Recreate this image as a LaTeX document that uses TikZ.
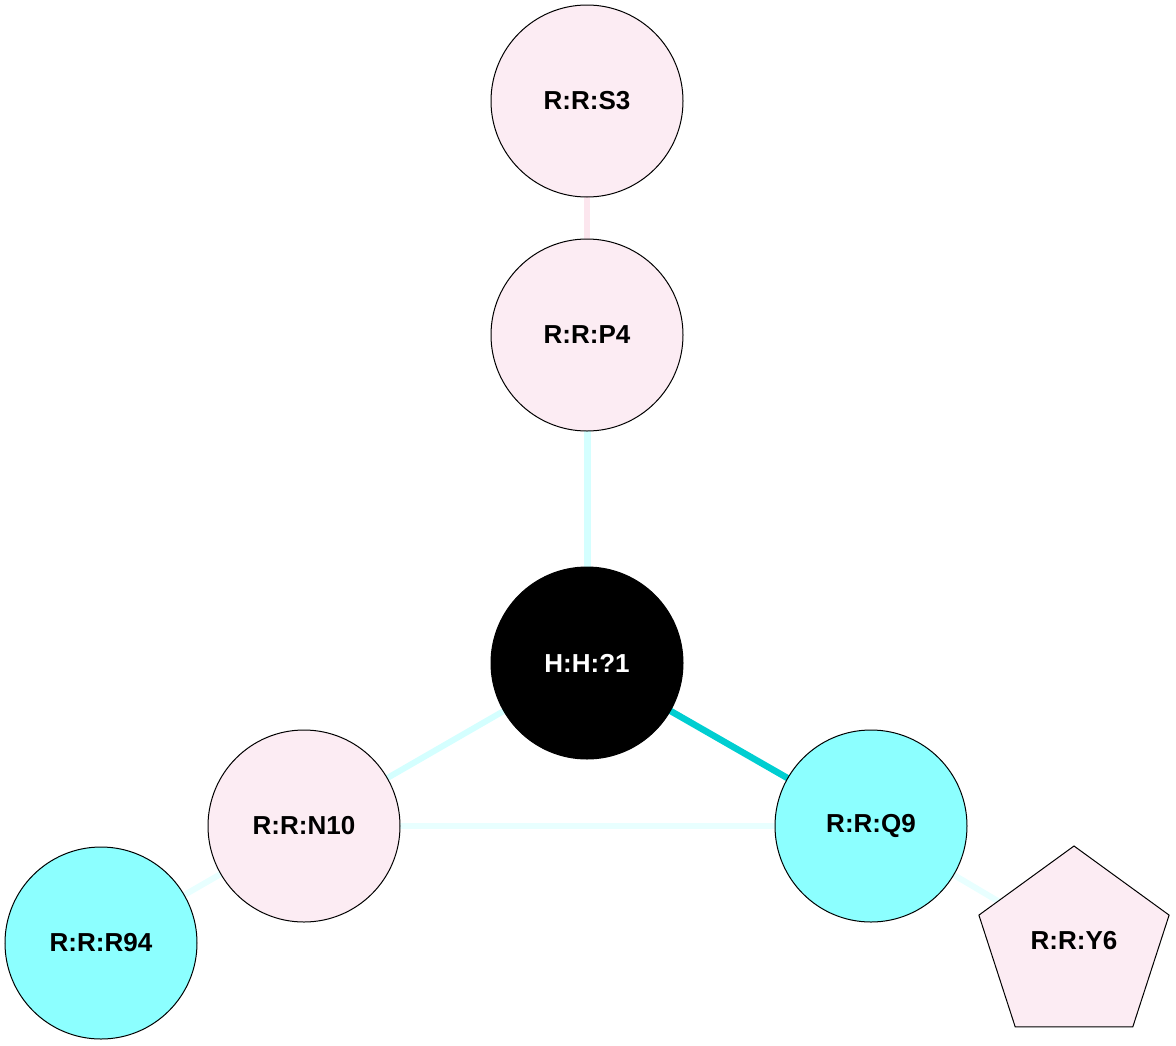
\documentclass[tikz,border=0pt]{standalone}
\usepackage{fontspec}
\setmainfont{Liberation Sans}
\usetikzlibrary{shapes.geometric,backgrounds}
\definecolor{pinkfill}{HTML}{FCECF3}
\definecolor{cyanfill}{HTML}{8CFFFF}
\definecolor{darkcyan}{HTML}{00CED1}
\definecolor{lightcyan}{HTML}{D4FFFF}
\definecolor{palecyan}{HTML}{E8FFFF}
\definecolor{palepink}{HTML}{FCE6EE}
\tikzset{
  res/.style={circle, draw=black, line width=1pt, minimum size=192pt, inner sep=0pt, font=\fontsize{26}{30}\selectfont\bfseries},
  pinkres/.style={res, fill=pinkfill},
  cyanres/.style={res, fill=cyanfill},
  hetres/.style={res, fill=black, text=white},
  pentres/.style={regular polygon, regular polygon sides=5, draw=black, line width=1pt, fill=pinkfill, minimum size=200pt, inner sep=0pt},
  lbl/.style={font=\fontsize{26}{30}\selectfont\bfseries},
  edge/.style={line width=6pt},
}
\begin{document}
\begin{tikzpicture}[x=1pt,y=-1pt]
\useasboundingbox (0,0) rectangle (1176,1045);
\node[pinkres] (S3) at (587,101) {R:R:S3};
\node[pinkres] (P4) at (587,335) {R:R:P4};
\node[hetres] (H1) at (587,663) {H:H:?1};
\node[pinkres] (N10) at (304,826) {R:R:N10};
\node[cyanres] (Q9) at (871,826) {R:R:Q9};
\node[cyanres] (R94) at (101,943) {R:R:R94};
\node[pentres] (Y6) at (1074,946) {};
\node[lbl] (Y6t) at (1074,941) {R:R:Y6};
\begin{pgfonlayer}{background}
\draw[edge, palepink] (S3.center) -- (P4.center);
\draw[edge, lightcyan, line width=7pt] (P4.center) -- (H1.center);
\draw[edge, lightcyan] (H1.center) -- (N10.center);
\draw[edge, darkcyan, line width=6.5pt] (H1.center) -- (Q9.center);
\draw[edge, palecyan] (N10.center) -- (Q9.center);
\draw[edge, palecyan] (N10.center) -- (R94.center);
\draw[edge, palecyan] (Q9.center) -- (Y6.center);
\end{pgfonlayer}
\end{tikzpicture}
\end{document}
